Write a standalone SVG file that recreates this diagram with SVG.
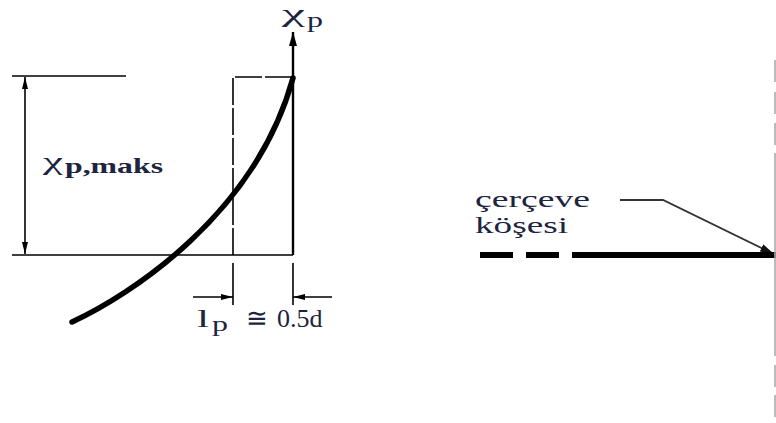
<svg xmlns="http://www.w3.org/2000/svg" width="776" height="423" viewBox="0 0 776 423">
<style>
.thin{stroke:#000;stroke-width:1.6;fill:none}
.axis{stroke:#000;stroke-width:2.4;fill:none}
.lbl{font-family:"Liberation Serif","Times New Roman",serif;fill:#1c2440}
</style>
<defs>
<marker id="ah" viewBox="0 0 12 6" refX="12" refY="3" markerWidth="12" markerHeight="6" markerUnits="userSpaceOnUse" orient="auto">
<path d="M0,0 L12,3 L0,6 Z" fill="#000"/>
</marker>
<marker id="ahAxis" viewBox="0 0 14 8" refX="14" refY="4" markerWidth="14" markerHeight="8" markerUnits="userSpaceOnUse" orient="auto">
<path d="M0,0 L14,4 L0,8 Z" fill="#000"/>
</marker>
<marker id="ahLead" viewBox="0 0 14 8" refX="14" refY="4" markerWidth="14" markerHeight="8" markerUnits="userSpaceOnUse" orient="auto">
<path d="M0,0 L14,4 L0,8 Z" fill="#111"/>
</marker>
</defs>
<rect width="776" height="423" fill="#fff"/>

<g id="connectors">
<line class="thin" x1="12" y1="76" x2="126" y2="76"/>
<line class="thin" x1="12" y1="255" x2="293" y2="255"/>
<line class="thin" x1="25" y1="165" x2="25" y2="77" marker-end="url(#ah)"/>
<line class="thin" x1="25" y1="165" x2="25" y2="254" marker-end="url(#ah)"/>
<line class="axis" x1="293" y1="255" x2="293" y2="32" marker-end="url(#ahAxis)"/>
<path class="thin" d="M233,255 V77 H293" stroke-dasharray="27 3"/>
<line class="thin" x1="233" y1="263" x2="233" y2="305"/>
<line class="thin" x1="293" y1="263" x2="293" y2="305"/>
<line class="thin" x1="193" y1="297" x2="233" y2="297" marker-end="url(#ah)"/>
<line class="thin" x1="332" y1="297" x2="293" y2="297" marker-end="url(#ah)"/>
<path d="M72,322 C130,295 255,215 293,78" stroke="#000" stroke-width="5.5" fill="none" stroke-linecap="round"/>
<path d="M620,200 H663 L774,254" stroke="#333" stroke-width="1.8" fill="none" marker-end="url(#ahLead)"/>
<line x1="480" y1="255" x2="513" y2="255" stroke="#000" stroke-width="6"/>
<line x1="526" y1="255" x2="559" y2="255" stroke="#000" stroke-width="6"/>
<line x1="572" y1="255" x2="776" y2="255" stroke="#000" stroke-width="6"/>
<path d="M775,60 V82 M775,92 V114 M775,123 V145 M775,153 V356 M775,365 V387 M775,395 V417" stroke="#aaa" stroke-width="1.6" fill="none"/>
</g>

<g id="label-xp">
<text class="lbl" x="282" y="22" font-size="26" textLength="23" lengthAdjust="spacingAndGlyphs">χ</text>
<text class="lbl" x="307" y="27" font-size="21" textLength="16" lengthAdjust="spacingAndGlyphs">p</text>
</g>

<g id="label-xpmaks">
<text class="lbl" x="43" y="170" font-size="26" textLength="20" lengthAdjust="spacingAndGlyphs">χ</text>
<text class="lbl" x="65" y="173" font-size="21" font-weight="bold" textLength="98" lengthAdjust="spacingAndGlyphs">p,maks</text>
</g>

<g id="label-lp">
<text class="lbl" x="197" y="327" font-size="25" textLength="12" lengthAdjust="spacingAndGlyphs">l</text>
<text class="lbl" x="212" y="331" font-size="21" textLength="16" lengthAdjust="spacingAndGlyphs">p</text>
<text class="lbl" x="246" y="327" font-size="26">≅</text>
<text class="lbl" x="277" y="327" font-size="26">0.5d</text>
</g>

<g id="label-corner">
<text class="lbl" x="475" y="207" font-size="23" textLength="115" lengthAdjust="spacingAndGlyphs">çerçeve</text>
<text class="lbl" x="475" y="233" font-size="23" textLength="93" lengthAdjust="spacingAndGlyphs">köşesi</text>
</g>
</svg>
